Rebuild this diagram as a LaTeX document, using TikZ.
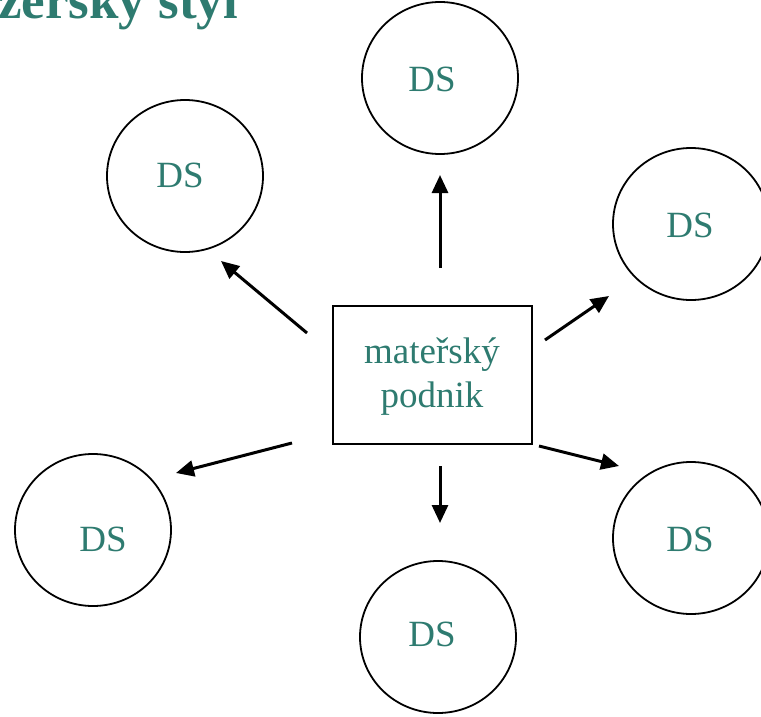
\documentclass[tikz,border=0pt]{standalone}
\usepackage{fontspec}
\setmainfont{Liberation Serif}
\definecolor{teal}{HTML}{2E7B70}
\usetikzlibrary{shapes.geometric,arrows.meta}
\tikzset{
  ds/.style={draw, line width=1.8pt, ellipse, minimum width=156pt, minimum height=152pt, inner sep=0pt},
  dstext/.style={text=teal, font=\fontsize{37}{37}\selectfont, inner sep=0pt},
  arr/.style={-{Triangle[length=18pt 0,width=16pt 0]}, line width=3pt},
}
\begin{document}
\begin{tikzpicture}[x=1pt,y=-1pt]
\useasboundingbox (0,0) rectangle (761,717);
\clip (0,0) rectangle (761,717);
\node[anchor=base west, inner sep=0pt, text=teal, font=\bfseries\fontsize{53}{53}\selectfont] (title) at (-2,19) {zerský styl};
\node[draw, line width=2pt, minimum width=199pt, minimum height=138pt, inner sep=0pt] (m) at (432.5,375) {};
\node[text=teal, font=\fontsize{37}{44}\selectfont, align=center, inner sep=0pt] (mt) at (432,377) {mateřský\\podnik};
\node[ds] (t) at (440,78) {};
\node[ds] (ul) at (185,176) {};
\node[ds] (ur) at (691,224) {};
\node[ds] (ll) at (93,530) {};
\node[ds] (lr) at (691,538) {};
\node[ds] (b) at (438,637) {};
\node[dstext] (tt) at (432,79) {DS};
\node[dstext] (ult) at (180,175) {DS};
\node[dstext] (urt) at (690,225) {DS};
\node[dstext] (llt) at (103,539) {DS};
\node[dstext] (lrt) at (690,539) {DS};
\node[dstext] (bt) at (432,634) {DS};
\coordinate (a1s) at (440,268); \coordinate (a1e) at (440,175);
\coordinate (a2s) at (307,333); \coordinate (a2e) at (221,261);
\coordinate (a3s) at (545,340); \coordinate (a3e) at (609,296);
\coordinate (a4s) at (292,443); \coordinate (a4e) at (176,473);
\coordinate (a5s) at (539,446); \coordinate (a5e) at (619,466);
\coordinate (a6s) at (440,466); \coordinate (a6e) at (440,523);
\draw[arr] (a1s) -- (a1e);
\draw[arr] (a2s) -- (a2e);
\draw[arr] (a3s) -- (a3e);
\draw[arr] (a4s) -- (a4e);
\draw[arr] (a5s) -- (a5e);
\draw[arr] (a6s) -- (a6e);
\end{tikzpicture}
\end{document}
